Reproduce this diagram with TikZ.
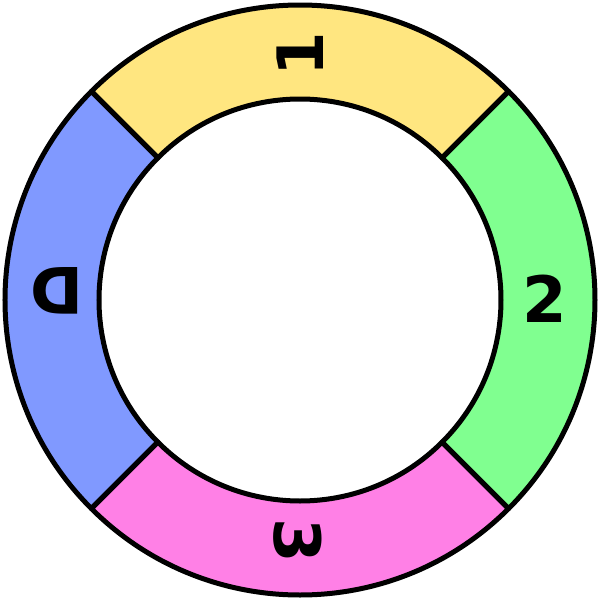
\documentclass[tikz,border=0pt]{standalone}
\usepackage{fontspec}
\setmainfont{DejaVu Sans}
\usepackage{tikz}
\usetikzlibrary{positioning}
\definecolor{segyellow}{HTML}{FFE680}
\definecolor{seggreen}{HTML}{80FF90}
\definecolor{segblue}{HTML}{8099FF}
\definecolor{segpink}{HTML}{FF80E6}

\begin{document}
\begin{tikzpicture}[x=0.5pt,y=0.5pt,every node/.style={font=\fontsize{32}{38}\selectfont\bfseries}]
    \tikzstyle{seg}=[draw=black,line width=2.5pt,line join=round];
    \useasboundingbox (-300,-300) rectangle (300,300);
    \fill[white] (-300,-300) rectangle (300,300);
    % ring segments
    \path[seg,fill=segyellow] (45:295) arc[start angle=45,end angle=135,radius=295]
        -- (135:201) arc[start angle=135,end angle=45,radius=201] -- cycle;
    \path[seg,fill=segblue] (135:295) arc[start angle=135,end angle=225,radius=295]
        -- (225:201) arc[start angle=225,end angle=135,radius=201] -- cycle;
    \path[seg,fill=segpink] (225:295) arc[start angle=225,end angle=315,radius=295]
        -- (315:201) arc[start angle=315,end angle=225,radius=201] -- cycle;
    \path[seg,fill=seggreen] (315:295) arc[start angle=315,end angle=405,radius=295]
        -- (405:201) arc[start angle=405,end angle=315,radius=201] -- cycle;
    % labels
    \node[rotate=90]  (one)   at (0,246)   {1};
    \node             (two)   at (245,1)   {2};
    \node[rotate=-90] (three) at (-2,-241) {3};
    \node[rotate=180] (d)     at (-243,9)  {D};
  \end{tikzpicture}
\end{document}
